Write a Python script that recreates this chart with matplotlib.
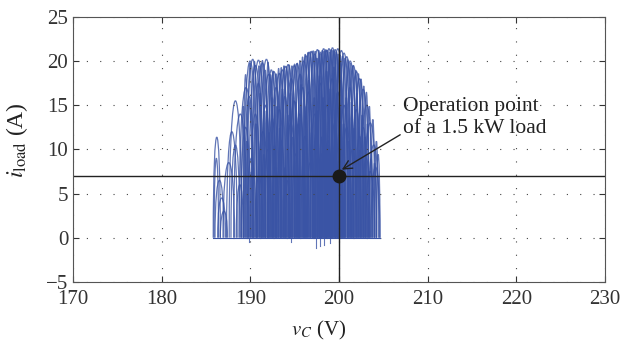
"""
Load current trajectory against capacitor voltage, with the 1.5 kW operation point
"""

import matplotlib.pyplot as plt
from matplotlib.path import Path
from matplotlib.patches import PathPatch

# wide arcs: i_load rises from 0 at arc_start, peaks at arc_peak, back to 0 at arc_end
arc_start = [185.8, 185.9, 186.0, 186.3, 186.6, 186.9, 187.3, 187.6, 187.8, 188.1, 188.4, 188.7, 188.9,
             189.2, 189.3, 189.5, 189.6, 189.8, 190.0, 190.1, 190.3, 190.5, 190.6, 190.8, 191.0, 191.2,
             191.3, 191.5, 191.7,
             191.9, 192.0, 192.2, 192.4, 192.5, 192.7, 192.9, 193.0, 193.2, 193.4, 193.5, 193.7, 193.9,
             194.0, 194.2, 194.4, 194.5, 194.7, 194.9, 195.0, 195.2, 195.4, 195.5, 195.7, 195.9,
             196.0, 196.2, 196.3, 196.5, 196.7, 196.8, 197.0, 197.2, 197.3, 197.5, 197.6, 197.8, 198.0,
             198.1, 198.3, 198.5, 198.6, 198.8, 199.0, 199.1, 199.3, 199.5, 199.6, 199.8, 200.0, 200.1,
             200.3,
             200.5, 200.7, 200.9, 201.0, 201.2, 201.4, 201.6, 201.8, 202.0, 202.2, 202.4, 202.6, 202.8,
             203.0, 203.3, 203.6]
arc_end = [186.6, 186.4, 187.0, 187.2, 187.4, 188.2, 188.5, 189.0, 188.8, 189.6, 189.2, 190.3, 190.0,
           190.7, 190.4, 191.0, 190.6, 191.3, 191.1, 191.7, 191.5, 191.4, 192.1, 192.0, 192.6, 192.2,
           192.8, 192.4, 193.0,
           193.4, 192.9, 193.6, 193.2, 194.0, 193.8, 194.3, 193.9, 194.7, 194.4, 195.0, 194.5, 195.3,
           195.1, 195.7, 195.4, 196.0, 195.5, 196.3, 196.1, 196.8, 196.4, 197.0, 196.6, 197.3,
           197.1, 197.6, 197.2, 198.0, 197.8, 198.3, 197.9, 198.6, 198.4, 199.0, 198.5, 199.3, 199.1,
           199.6, 199.2, 200.0, 199.8, 200.3, 200.0, 200.6, 200.4, 201.0, 200.5, 201.3, 201.1, 201.6,
           201.4,
           202.0, 201.7, 202.3, 202.0, 202.7, 202.5, 203.0, 202.8, 203.4, 203.2, 203.8, 203.5, 204.2,
           204.0, 204.5, 204.6]
arc_peak = [11.4, 9.0, 6.5, 4.5, 3.0, 8.5, 12.0, 15.5, 10.5, 14.0, 6.0, 17.0, 12.5,
            20.0, 16.0, 20.2, 9.0, 19.5, 14.0, 20.1, 17.5, 7.0, 19.8, 12.0, 20.2, 15.0,
            18.5, 10.0, 19.0,
            18.8, 13.5, 17.0, 8.0, 18.6, 14.5, 19.0, 11.0, 19.4, 16.0, 19.6, 6.5, 18.0,
            13.0, 19.5, 15.5, 19.7, 9.5, 18.5, 14.0, 20.0, 17.0, 20.6, 11.5, 21.0,
            16.5, 21.1, 8.5, 20.8, 14.0, 21.3, 12.0, 21.0, 17.5, 21.4, 9.5, 21.2, 15.0,
            21.4, 11.0, 21.5, 18.0, 21.3, 13.0, 21.4, 16.5, 21.2, 9.0, 20.9, 15.0, 20.5,
            12.5,
            20.0, 17.0, 19.5, 10.0, 18.8, 14.5, 18.0, 11.5, 16.8, 12.5, 15.0, 9.0, 13.0,
            7.5, 10.5, 8.0]

# narrow arcs filling the dense core
narrow_start = [189.0, 189.2, 189.4, 189.7, 189.9, 190.2, 190.4, 190.7, 190.9, 191.1, 191.3, 191.45,
                191.6, 191.75, 191.9, 192.05, 192.2, 192.35, 192.5, 192.65, 192.8, 192.95, 193.1,
                193.25, 193.4, 193.55, 193.7, 193.85, 194.0, 194.15, 194.3, 194.45, 194.6, 194.75,
                194.9, 195.05, 195.2, 195.35, 195.5, 195.65, 195.8, 195.95, 196.1, 196.25, 196.4,
                196.55, 196.7, 196.85, 197.0, 197.1, 197.2, 197.3, 197.4, 197.5, 197.6, 197.7, 197.8,
                197.9, 198.0, 198.1, 198.2, 198.3, 198.4, 198.5, 198.6, 198.7, 198.8, 198.9, 199.0,
                199.1, 199.2, 199.3, 199.4, 199.5, 199.6, 199.7, 199.8, 199.9, 200.0, 200.15, 200.3,
                200.45, 200.6, 200.75, 200.9, 201.05, 201.2, 201.35, 201.5, 201.65, 201.8, 201.95,
                202.1, 202.25, 202.4, 202.55, 202.7, 202.85, 203.0, 203.2, 203.4, 203.6, 203.8,
                204.0, 204.2]
narrow_end = [189.4, 189.7, 189.8, 190.2, 190.3, 190.7, 190.8, 191.2, 191.3, 191.6, 191.7, 191.9,
              192.0, 192.2, 192.3, 192.5, 192.6, 192.8, 192.9, 193.1, 193.2, 193.4, 193.5,
              193.7, 193.8, 194.0, 194.1, 194.3, 194.4, 194.6, 194.7, 194.9, 195.0, 195.2,
              195.3, 195.5, 195.6, 195.8, 195.9, 196.1, 196.2, 196.4, 196.5, 196.7, 196.8,
              197.0, 197.1, 197.3, 197.4, 197.5, 197.6, 197.7, 197.8, 197.9, 198.0, 198.1, 198.2,
              198.3, 198.4, 198.5, 198.6, 198.7, 198.8, 198.9, 199.0, 199.1, 199.2, 199.3, 199.4,
              199.5, 199.6, 199.7, 199.8, 199.9, 200.0, 200.1, 200.2, 200.3, 200.4, 200.6, 200.7,
              200.9, 201.0, 201.2, 201.3, 201.5, 201.6, 201.8, 201.9, 202.1, 202.2, 202.4,
              202.5, 202.7, 202.8, 203.0, 203.1, 203.3, 203.4, 203.6, 203.8, 204.0, 204.2,
              204.4, 204.6]
narrow_peak = [15.0, 18.5, 11.0, 19.8, 7.5, 20.0, 13.0, 19.5, 16.5, 20.1, 9.5, 19.0,
               14.5, 19.9, 12.0, 18.5, 16.0, 18.9, 10.5, 18.6, 15.0, 19.2, 12.5,
               19.3, 17.0, 19.5, 8.0, 19.4, 14.0, 19.6, 16.5, 19.5, 11.5, 19.7,
               15.5, 19.8, 13.0, 20.1, 17.5, 20.5, 10.0, 20.8, 15.0, 21.0, 18.0,
               21.1, 12.0, 21.2, 16.0, 21.3, 9.0, 20.5, 14.5, 21.4, 18.5, 21.0, 11.5,
               21.4, 16.0, 21.3, 13.5, 21.5, 19.0, 21.4, 10.5, 21.2, 17.0, 21.5, 14.0,
               21.4, 19.5, 21.3, 12.0, 21.2, 16.5, 21.0, 9.5, 20.9, 18.0, 20.6, 13.0,
               20.4, 16.0, 20.2, 11.0, 19.8, 15.5, 19.5, 12.5, 19.0, 16.5, 18.6,
               10.0, 18.0, 14.0, 17.2, 11.5, 16.5, 13.0, 15.0, 9.0, 13.5, 8.5,
               11.0, 9.5]

# short undershoots below zero
dip_v = [189.8, 194.6, 197.4, 197.8, 198.3, 199.0]
dip_i = [-0.5, -0.5, -1.2, -0.9, -0.8, -0.6]

op_v = 200
op_i = 7

plt.rcParams['font.family'] = 'serif'
plt.rcParams['font.serif'] = ['Liberation Serif', 'DejaVu Serif']
plt.rcParams['mathtext.fontset'] = 'stix'


def arc_path(v0, v1, peak):
    # cubic with vertical sides; control height gives apex = peak
    h = peak * 4 / 3
    verts = [(v0, 0), (v0, h), (v1, h), (v1, 0)]
    codes = [Path.MOVETO, Path.CURVE4, Path.CURVE4, Path.CURVE4]
    return Path(verts, codes)


def main():
    fig = plt.figure(figsize=(6.2, 3.45), dpi=100)
    ax = fig.add_axes([0.118, 0.183, 0.858, 0.768])

    blue = '#3a54a5'
    for v0, v1, pk in zip(arc_start + narrow_start, arc_end + narrow_end, arc_peak + narrow_peak):
        ax.add_patch(PathPatch(arc_path(v0, v1, pk), facecolor='none',
                               edgecolor=blue, lw=0.9, alpha=0.8))
    for v, d in zip(dip_v, dip_i):
        ax.plot([v, v], [0, d], color=blue, lw=0.8, alpha=0.8)
    ax.plot([min(arc_start), max(arc_end)], [0, 0], color=blue, lw=0.8)

    ax.axhline(op_i, color='#222222', lw=1.0)
    ax.axvline(op_v, color='#222222', lw=1.0)
    ax.plot(op_v, op_i, 'o', color='#1a1a1a', markersize=9)

    ax.annotate('Operation point\nof a 1.5 kW load', xy=(200.3, 7.7), xytext=(207.2, 13.6),
                fontsize=15.5, ha='left', va='center', color='#222222',
                arrowprops=dict(arrowstyle='->', color='#222222', lw=1.0,
                                shrinkA=0, shrinkB=0, relpos=(0, 0.12)))

    ax.set_xlim(170, 230)
    ax.set_ylim(-5, 25)
    ax.set_xticks(range(170, 231, 10))
    ax.set_yticks(range(-5, 26, 5))
    ax.grid(True, linestyle=(0, (1, 11)), color='#444444', lw=0.8)
    ax.tick_params(direction='in', top=True, right=True, labelsize=15, length=4, colors='#333333')
    ax.tick_params(axis='x', pad=6)
    for s in ax.spines.values():
        s.set_color('#555555')
    ax.set_xlabel('$v_C$ (V)', fontsize=15, color='#222222')
    ax.set_ylabel(r'$i_{\mathrm{load}}$ (A)', fontsize=17, color='#222222')
    ax.xaxis.set_label_coords(0.462, -0.14)
    ax.yaxis.set_label_coords(-0.081, 0.536)

    fig.savefig('out.png', dpi=100)


if __name__ == "__main__":
    main()
